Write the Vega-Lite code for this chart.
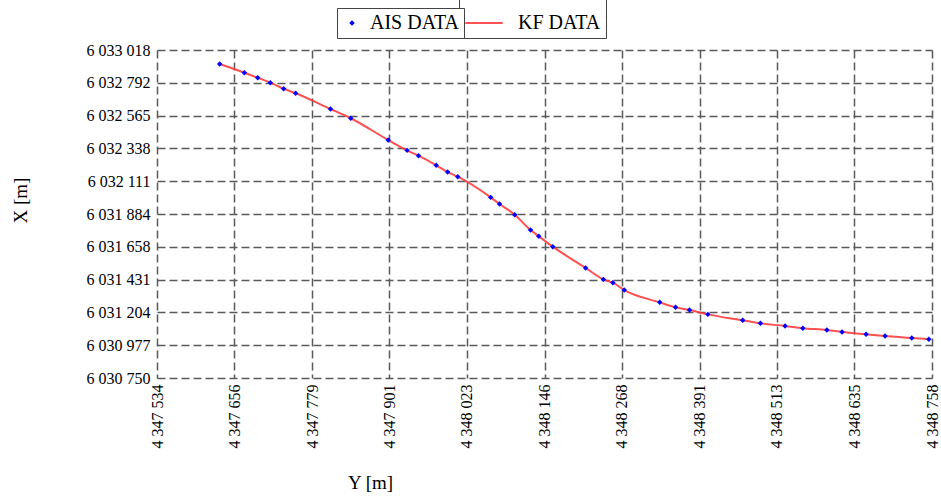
{
  "$schema": "https://vega.github.io/schema/vega-lite/v6.json",
  "width": 775,
  "height": 328,
  "autosize": "none",
  "padding": {"left": 157, "top": 50, "right": 9, "bottom": 118},
  "background": "white",
  "config": {
    "view": {"stroke": null},
    "font": "Liberation Serif",
    "axis": {
      "labelFont": "Liberation Serif",
      "titleFont": "Liberation Serif",
      "labelFontSize": 16,
      "titleFontSize": 19,
      "titleFontWeight": "normal",
      "labelColor": "black",
      "titleColor": "black",
      "domain": false,
      "ticks": false,
      "grid": true,
      "gridColor": "#5a5a5a",
      "gridDash": [8, 4],
      "gridWidth": 1.5,
      "gridOpacity": 1
    },
    "legend": {
      "labelFont": "Liberation Serif",
      "labelFontSize": 20,
      "labelColor": "black",
      "strokeColor": "#444444",
      "fillColor": "white",
      "padding": 5,
      "labelOffset": 10,
      "orient": "none",
      "direction": "horizontal"
    }
  },
  "data": {
    "values": [
      {"Y": 4347633, "X": 6032921},
      {"Y": 4347672, "X": 6032861},
      {"Y": 4347693, "X": 6032826},
      {"Y": 4347713, "X": 6032792},
      {"Y": 4347734, "X": 6032750},
      {"Y": 4347753, "X": 6032719},
      {"Y": 4347808, "X": 6032610},
      {"Y": 4347840, "X": 6032546},
      {"Y": 4347899, "X": 6032396},
      {"Y": 4347929, "X": 6032324},
      {"Y": 4347947, "X": 6032287},
      {"Y": 4347975, "X": 6032221},
      {"Y": 4347993, "X": 6032174},
      {"Y": 4348009, "X": 6032142},
      {"Y": 4348061, "X": 6031999},
      {"Y": 4348075, "X": 6031953},
      {"Y": 4348099, "X": 6031879},
      {"Y": 4348124, "X": 6031773},
      {"Y": 4348137, "X": 6031730},
      {"Y": 4348159, "X": 6031658},
      {"Y": 4348211, "X": 6031511},
      {"Y": 4348239, "X": 6031432},
      {"Y": 4348254, "X": 6031409},
      {"Y": 4348272, "X": 6031358},
      {"Y": 4348328, "X": 6031273},
      {"Y": 4348353, "X": 6031239},
      {"Y": 4348375, "X": 6031220},
      {"Y": 4348404, "X": 6031190},
      {"Y": 4348459, "X": 6031149},
      {"Y": 4348487, "X": 6031128},
      {"Y": 4348526, "X": 6031110},
      {"Y": 4348554, "X": 6031094},
      {"Y": 4348592, "X": 6031082},
      {"Y": 4348616, "X": 6031068},
      {"Y": 4348654, "X": 6031052},
      {"Y": 4348684, "X": 6031040},
      {"Y": 4348726, "X": 6031027},
      {"Y": 4348753, "X": 6031018}
    ]
  },
  "encoding": {
    "x": {
      "field": "Y",
      "type": "quantitative",
      "scale": {"domain": [4347534, 4348758], "nice": false, "zero": false},
      "axis": {
        "title": "Y [m]",
        "values": [4347534, 4347656, 4347779, 4347901, 4348023, 4348146, 4348268, 4348391, 4348513, 4348635, 4348758],
        "labelExpr": "replace(format(datum.value, ',d'), regexp(',', 'g'), ' ')",
        "labelAngle": 270,
        "labelAlign": "right",
        "labelBaseline": "middle",
        "labelPadding": 6,
        "titleX": 213,
        "titleY": 104,
        "titleAnchor": "middle",
        "titleAlign": "center",
        "titleBaseline": "middle"
      }
    },
    "y": {
      "field": "X",
      "type": "quantitative",
      "scale": {"domain": [6030750, 6033018], "nice": false, "zero": false},
      "axis": {
        "title": "X [m]",
        "values": [6030750, 6030977, 6031204, 6031431, 6031658, 6031884, 6032111, 6032338, 6032565, 6032792, 6033018],
        "labelExpr": "replace(format(datum.value, ',d'), regexp(',', 'g'), ' ')",
        "labelPadding": 7,
        "titleX": -137,
        "titleY": 150,
        "titleAlign": "center",
        "titleBaseline": "middle",
        "titleAngle": 270
      }
    }
  },
  "resolve": {"scale": {"color": "independent"}, "legend": {"color": "independent"}},
  "layer": [
    {
      "mark": {"type": "line", "interpolate": "monotone", "strokeWidth": 2, "opacity": 0.85},
      "encoding": {
        "color": {
          "datum": "KF DATA",
          "type": "nominal",
          "scale": {"domain": ["KF DATA"], "range": ["#ff3333"]},
          "legend": {
            "title": null,
            "legendX": 302,
            "legendY": -52,
            "labelFont": "Liberation Serif",
            "symbolType": "stroke",
            "symbolSize": 1400,
            "symbolStrokeWidth": 2,
            "labelOffset": 14
          }
        }
      }
    },
    {
      "mark": {"type": "point", "shape": "diamond", "filled": true, "size": 30, "opacity": 1},
      "encoding": {
        "color": {
          "datum": "AIS DATA",
          "type": "nominal",
          "scale": {"domain": ["AIS DATA"], "range": ["#0000ff"]},
          "legend": {
            "title": null,
            "legendX": 180,
            "legendY": -42,
            "labelFont": "Liberation Serif",
            "symbolType": "diamond",
            "symbolSize": 30,
            "labelOffset": 8
          }
        }
      }
    }
  ]
}
